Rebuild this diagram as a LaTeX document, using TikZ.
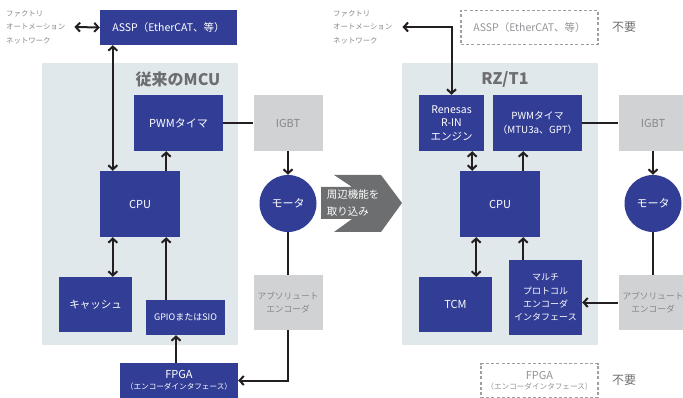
\documentclass[tikz,border=0pt]{standalone}
\usepackage{fontspec}
\setmainfont{Noto Sans CJK JP}
\usetikzlibrary{arrows.meta,positioning}

\definecolor{renblue}{HTML}{323E96}
\definecolor{panelbg}{HTML}{E1E8EC}
\definecolor{lightbox}{HTML}{D1D2D4}
\definecolor{greytext}{HTML}{85878A}
\definecolor{titlegray}{HTML}{6D6E70}
\definecolor{wire}{HTML}{231F20}
\definecolor{mergegray}{HTML}{6D6E70}

\begin{document}
\begin{tikzpicture}[
    x=1pt, y=-1pt,
    >={Straight Barb[length=4.2pt,width=9pt]},
    unit/.style={fill=renblue, text=white, inner sep=0pt, align=center, font=\fontsize{11}{13.5}\selectfont},
    ext/.style={fill=lightbox, text=greytext, inner sep=0pt, align=center, font=\fontsize{8.7}{13.5}\selectfont},
    gone/.style={draw=greytext!80, dash pattern=on 3pt off 2.2pt, line width=1.1pt, text=greytext!90, inner sep=0pt, align=center, font=\fontsize{10}{13}\selectfont},
    panel/.style={fill=panelbg, inner sep=0pt},
    ptitle/.style={text=titlegray, font=\fontsize{16}{16}\selectfont\bfseries},
    note/.style={text=greytext, align=left, inner sep=0pt, font=\fontsize{7.4}{13.5}\selectfont},
    unneeded/.style={text=titlegray, font=\fontsize{12}{12}\selectfont},
    small/.style={font=\fontsize{9.8}{13.5}\selectfont},
    arrow/.style={->, line width=2pt, draw=wire},
    link/.style={line width=2pt, draw=wire}
]
\useasboundingbox (0,0) rectangle (683,398);

% Panels
\node[panel, minimum width=196pt, minimum height=282pt] (mcu) at (140,204) {};
\node[panel, minimum width=196pt, minimum height=282pt] (rzt) at (500,204) {};
\node[ptitle] (mcut) at (178,79) {従来のMCU};
\node[ptitle] (rztt) at (505,79) {RZ/T1};

% Left: conventional MCU
\node[note, anchor=west] (fa1) at (6,27) {ファクトリ\\オートメーション\\ネットワーク};
\node[unit, minimum width=137pt, minimum height=35pt, font=\fontsize{10.5}{13}\selectfont] (assp) at (168.5,27.5) {ASSP（EtherCAT、等）};
\node[unit, minimum width=89pt, minimum height=56pt] (pwm) at (178.5,123) {PWMタイマ};
\node[ext, minimum width=69pt, minimum height=56pt, font=\fontsize{11}{13}\selectfont] (igbt) at (288,123) {IGBT};
\node[unit, minimum width=80pt, minimum height=66pt] (cpu) at (140,204) {CPU};
\node[unit, minimum width=73pt, minimum height=55pt, font=\fontsize{10.5}{13}\selectfont] (cache) at (95.5,304.5) {キャッシュ};
\node[unit, minimum width=79pt, minimum height=35pt, font=\fontsize{9}{12}\selectfont] (gpio) at (185.5,317.5) {GPIOまたはSIO};
\node[unit, minimum width=118pt, minimum height=35pt] (fpga) at (179,380.5) {FPGA\\[-3pt]{\fontsize{7.6}{10}\selectfont（エンコーダインタフェース）}};
\node[unit, circle, minimum size=57pt] (motor) at (288,203.5) {モータ};
\node[ext, minimum width=69pt, minimum height=55pt] (enc) at (288,302.5) {アブソリュート\\エンコーダ};

% Right: RZ/T1
\node[note, anchor=west] (fa2) at (333,27) {ファクトリ\\オートメーション\\ネットワーク};
\node[gone, minimum width=137pt, minimum height=34pt, font=\fontsize{10.5}{13}\selectfont] (assp2) at (529.5,27.5) {ASSP（EtherCAT、等）};
\node[unneeded, right=10pt of assp2] (no1) {不要};
\node[unit, minimum width=65pt, minimum height=56pt, font=\fontsize{10.5}{13.5}\selectfont] (rin) at (451.5,123) {Renesas\\R-IN\\エンジン};
\node[unit, small, minimum width=89pt, minimum height=56pt] (pwm2) at (537.5,123) {PWMタイマ\\（MTU3a、GPT）};
\node[ext, minimum width=69pt, minimum height=56pt, font=\fontsize{11}{13}\selectfont] (igbt2) at (653,123) {IGBT};
\node[unit, minimum width=80pt, minimum height=66pt] (cpu2) at (500,204) {CPU};
\node[unit, minimum width=73pt, minimum height=55pt] (tcm) at (455.5,304.5) {TCM};
\node[unit, minimum width=73pt, minimum height=75pt, font=\fontsize{9}{13.4}\selectfont] (multi) at (545.5,297.5) {マルチ\\プロトコル\\エンコーダ\\インタフェース};
\node[unit, circle, minimum size=57pt] (motor2) at (653,203.5) {モータ};
\node[ext, minimum width=69pt, minimum height=55pt] (enc2) at (653,302.5) {アブソリュート\\エンコーダ};
\node[gone, minimum width=117pt, minimum height=34pt, font=\fontsize{11}{13}\selectfont] (fpga2) at (539.5,380.5) {FPGA\\[-3pt]{\fontsize{7.6}{10}\selectfont（エンコーダインタフェース）}};
\node[unneeded, right=10pt of fpga2] (no2) {不要};

% Merge arrow
\fill[mergegray] (334,175) -- (381,175) -- (402,203) -- (381,232) -- (334,232) -- (352,219) -- (321,219) -- (321,187) -- (352,187) -- cycle;
\node[text=white, align=left, inner sep=0pt, font=\fontsize{10.5}{16.5}\selectfont] (merge) at (353,203) {周辺機能を\\取り込み};

% Helper points
\coordinate (l1) at ([xshift=13pt]cpu.north west);
\coordinate (l2) at ([xshift=-14pt]cpu.north east);
\coordinate (l3) at ([xshift=-3pt]fpga.north);
\coordinate (r1) at ([xshift=-12pt]rin.south east);
\coordinate (r2) at ([xshift=-17pt]cpu2.north east);
\coordinate (r3) at ([xshift=-16pt]tcm.north east);
\coordinate (net2) at ([xshift=10pt]fa2.east);

% Arrows left
\draw[arrow, <->] ([xshift=9pt]fa1.east) -- (assp.west);
\draw[arrow, <->] (assp.south -| l1) -- (l1);
\draw[arrow] (l2) -- (pwm.south -| l2);
\draw[arrow, <->] (cpu.south -| l1) -- (cache.north -| l1);
\draw[arrow] (gpio.north -| l2) -- (cpu.south -| l2);
\draw[arrow] (l3) -- (gpio.south -| l3);
\draw[link] (pwm.east) -- (igbt.west);
\draw[arrow] (igbt.south) -- (motor.north);
\draw[link] (motor.south) -- (enc.north);
\draw[arrow] (enc.south) |- (fpga.east);

% Arrows right
\draw[arrow, <->] (net2) -| (rin.north);
\draw[arrow, <->] (rin.south -| r1) -- (cpu2.north -| r1);
\draw[arrow] (r2) -- (pwm2.south -| r2);
\draw[arrow, <->] (cpu2.south -| r3) -- (r3);
\draw[arrow] (multi.north -| r2) -- (cpu2.south -| r2);
\draw[link] (pwm2.east) -- (igbt2.west);
\draw[arrow] (igbt2.south) -- (motor2.north);
\draw[link] (motor2.south) -- (enc2.north);
\draw[arrow] (enc2.west) -- (enc2.west -| multi.east);
\end{tikzpicture}
\end{document}
